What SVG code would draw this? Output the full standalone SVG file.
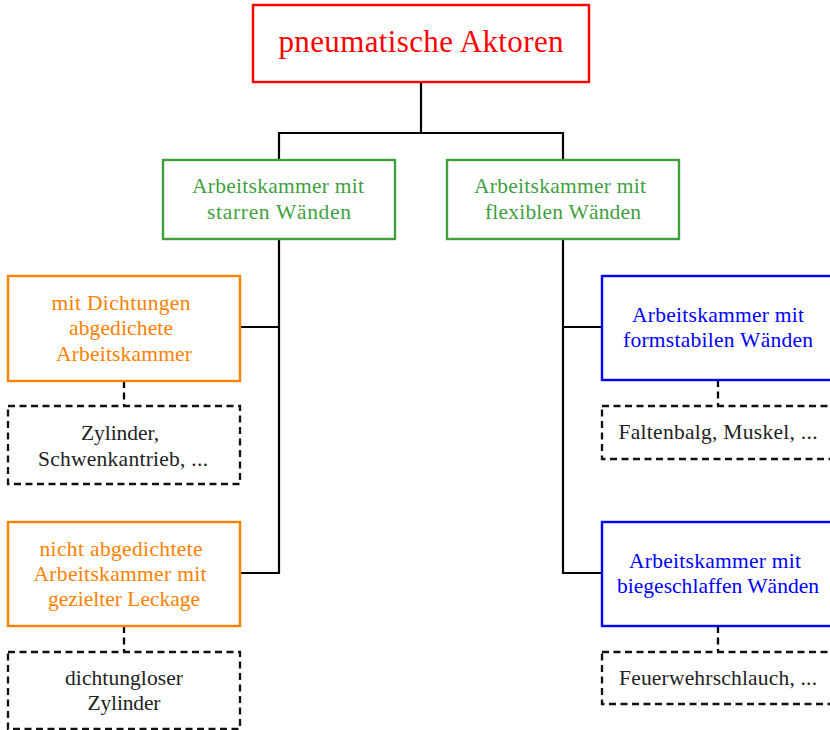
<svg xmlns="http://www.w3.org/2000/svg" width="830" height="730" viewBox="0 0 830 730">
<style>
text{font-family:"Liberation Serif","Times New Roman",serif;text-anchor:middle}
.t{font-size:21.5px}
.box{fill:#fff;stroke-width:2.4}
.red{stroke:#ff0000}.redt{fill:#ff0000}
.grn{stroke:#3f9f3f}.grnt{fill:#3f9f3f}
.org{stroke:#ff8000}.orgt{fill:#ff8000}
.blu{stroke:#0000ff}.blut{fill:#0000ff}
.dsh{fill:#fff;stroke:#111;stroke-width:2.3;stroke-dasharray:7 4.5}
.blk{fill:#222}
.ln{fill:none;stroke:#000;stroke-width:2.2}
.dl{fill:none;stroke:#000;stroke-width:2.3;stroke-dasharray:7 4.5}
</style>
<rect width="830" height="730" fill="#fff"/>
<g id="connectors">
<path class="ln" d="M421,82 V133 M279,133 H563 M279,132 V160 M563,132 V160"/>
<path class="ln" d="M279,239 V573 H240 M279,327 H240"/>
<path class="ln" d="M563,239 V573 H602 M563,327 H602"/>
<path class="dl" d="M124,381 V406"/>
<path class="dl" d="M124,626 V652"/>
<path class="dl" d="M718,380 V406"/>
<path class="dl" d="M718,626 V652"/>
</g>
<g id="root">
<rect class="box red" x="253" y="5" width="336" height="77"/>
<text class="redt" x="421" y="52" font-size="31" textLength="285" lengthAdjust="spacing">pneumatische Aktoren</text>
</g>
<g id="starr">
<rect class="box grn" x="163" y="160" width="232" height="79"/>
<text class="t grnt" x="278" y="193" textLength="172" lengthAdjust="spacing">Arbeitskammer mit</text>
<text class="t grnt" x="279" y="219" textLength="144" lengthAdjust="spacing">starren Wänden</text>
</g>
<g id="flexibel">
<rect class="box grn" x="447" y="160" width="232" height="79"/>
<text class="t grnt" x="560" y="193" textLength="172" lengthAdjust="spacing">Arbeitskammer mit</text>
<text class="t grnt" x="563" y="219" textLength="156" lengthAdjust="spacing">flexiblen Wänden</text>
</g>
<g id="dichtung">
<rect class="box org" x="8" y="276" width="232" height="105"/>
<text class="t orgt" x="121" y="310" textLength="139" lengthAdjust="spacing">mit Dichtungen</text>
<text class="t orgt" x="121" y="335" textLength="104" lengthAdjust="spacing">abgedichete</text>
<text class="t orgt" x="124" y="361" textLength="136" lengthAdjust="spacing">Arbeitskammer</text>
</g>
<g id="zylinder">
<rect class="dsh" x="8" y="406" width="232" height="78"/>
<text class="t blk" x="120" y="440" textLength="78" lengthAdjust="spacing">Zylinder,</text>
<text class="t blk" x="123" y="466" textLength="170" lengthAdjust="spacing">Schwenkantrieb, ...</text>
</g>
<g id="leckage">
<rect class="box org" x="8" y="522" width="232" height="104"/>
<text class="t orgt" x="121" y="556" textLength="163" lengthAdjust="spacing">nicht abgedichtete</text>
<text class="t orgt" x="120" y="581" textLength="173" lengthAdjust="spacing">Arbeitskammer mit</text>
<text class="t orgt" x="124" y="606" textLength="152" lengthAdjust="spacing">gezielter Leckage</text>
</g>
<g id="dichtungslos">
<rect class="dsh" x="8" y="652" width="232" height="77"/>
<text class="t blk" x="124" y="685" textLength="118" lengthAdjust="spacing">dichtungloser</text>
<text class="t blk" x="124" y="710" textLength="73" lengthAdjust="spacing">Zylinder</text>
</g>
<g id="formstabil">
<rect class="box blu" x="602" y="276" width="234" height="104"/>
<text class="t blut" x="718" y="322" textLength="172" lengthAdjust="spacing">Arbeitskammer mit</text>
<text class="t blut" x="718" y="347" textLength="190" lengthAdjust="spacing">formstabilen Wänden</text>
</g>
<g id="faltenbalg">
<rect class="dsh" x="602" y="406" width="234" height="53"/>
<text class="t blk" x="718" y="439" textLength="199" lengthAdjust="spacing">Faltenbalg, Muskel, ...</text>
</g>
<g id="biegeschlaff">
<rect class="box blu" x="602" y="522" width="234" height="104"/>
<text class="t blut" x="715" y="568" textLength="172" lengthAdjust="spacing">Arbeitskammer mit</text>
<text class="t blut" x="718" y="593" textLength="202" lengthAdjust="spacing">biegeschlaffen Wänden</text>
</g>
<g id="feuerwehr">
<rect class="dsh" x="602" y="652" width="234" height="52"/>
<text class="t blk" x="718" y="685" textLength="198" lengthAdjust="spacing">Feuerwehrschlauch, ...</text>
</g>
</svg>
